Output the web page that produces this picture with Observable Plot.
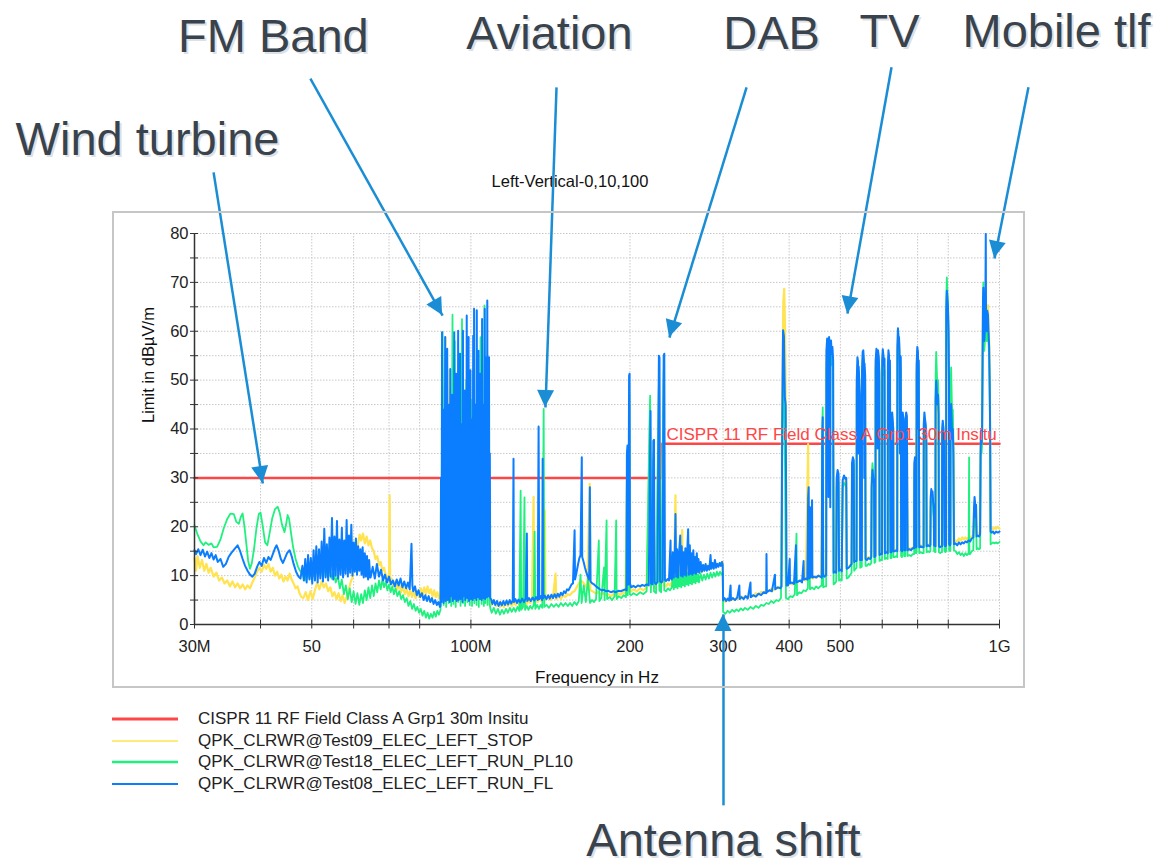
<!DOCTYPE html>
<html><head><meta charset="utf-8">
<script src="https://cdn.jsdelivr.net/npm/d3@7"></script>
<script src="https://cdn.jsdelivr.net/npm/@observablehq/plot@0.6"></script>
<style>
html,body{margin:0;padding:0;background:#fff;}
#wrap{position:relative;width:1162px;height:868px;overflow:hidden;font-family:"Liberation Sans",Arial,sans-serif;}
#chart{position:absolute;left:0;top:0;width:1162px;height:868px;}
#box{position:absolute;left:112px;top:211px;width:909px;height:473px;border:2px solid #c6c6c6;pointer-events:none;}
#legend{position:absolute;left:112px;top:708px;font-size:17px;color:#222;}
.row{height:21.7px;display:flex;align-items:center;white-space:nowrap;}
</style></head><body>
<div id="wrap"><div id="chart"></div><div id="box"></div><div id="legend"></div></div>
<script>
// ---------- axes / labels ----------
const xTicks = [30,40,50,60,70,80,100,200,300,400,500,600,700,800,1000];
const xTickText = ["30M","","50","60","","80","100M","200","300","400","500","","","800","1G"];
const yTicks = [0,5,10,15,20,25,30,35,40,45,50,55,60,65,70,75,80];
const yTickLabels = [0,10,20,30,40,50,60,70,80];
const chartTitle = "Left-Vertical-0,10,100";
const xTitle = "Frequency in Hz";
const yTitle = "Limit in dBµV/m";

// ---------- series ----------
const seriesNames = [
  "CISPR 11 RF Field Class A Grp1 30m Insitu",
  "QPK_CLRWR@Test09_ELEC_LEFT_STOP",
  "QPK_CLRWR@Test18_ELEC_LEFT_RUN_PL10",
  "QPK_CLRWR@Test08_ELEC_LEFT_RUN_FL"
];
const seriesColors = ["#ff4646", "#ffe350", "#20f07e", "#0b7dff"];

// limit line (MHz, dBµV/m)
const limitFreq = [30, 230, 230, 1000];
const limitLevel = [30, 30, 37, 37];
const limitLabelFreq = 234.4;
const limitLabelLevel = 37.65;

// Test09 STOP (yellow): [MHz, dBµV/m]
const yellowTrace = [
[30.0,13.6],[30.2,11.0],[30.4,14.0],[30.7,11.6],[31.0,13.2],[31.3,11.0],[31.6,12.4],[31.9,10.6],[32.2,11.6],[32.6,9.8],[33.0,10.6],[33.4,9.0],[33.8,9.6],[34.2,8.4],[34.6,9.0],[35.0,7.8],[35.4,8.8],[35.8,7.6],[36.2,8.4],[36.6,7.4],[37.0,8.2],[37.4,7.2],[37.8,8.0],[38.2,7.4],[38.6,8.6],[39.0,9.6],[39.4,10.8],[39.8,11.6],[40.2,10.8],[40.6,12.2],[41.0,11.4],[41.4,12.4],[41.8,10.8],[42.2,11.6],[42.6,10.0],[43.0,10.8],[43.4,9.4],[43.8,10.2],[44.2,8.8],[44.6,9.8],[45.0,9.0],[45.4,10.4],[45.8,9.2],[46.2,8.4],[46.6,7.4],[47.0,7.8],[47.4,6.4],[47.8,5.6],
[48.2,5.4],[48.7,6.6],[49.2,5.0],[49.7,6.8],[50.2,5.2],[50.7,7.0],[51.2,8.6],[51.7,7.2],[52.2,8.8],[52.7,7.6],[53.2,8.4],[53.7,6.8],[54.2,7.6],[54.7,5.8],[55.2,6.6],[55.7,5.2],[56.2,6.4],[56.7,4.8],[57.2,6.0],[57.7,4.4],[58.2,5.6],[58.7,7.0],[59.2,8.6],[59.7,9.6],[60.2,12.0],[60.7,14.6],[61.2,16.8],[61.6,18.4],[62.0,17.2],[62.5,18.6],[63.0,16.6],[63.5,18.0],[64.0,16.2],[64.5,17.2],[65.0,15.6],[65.5,15.0],[66.0,13.4],[66.5,14.0],[67.0,12.2],[67.5,12.8],[68.0,11.0],[68.5,11.6],[69.0,10.2],[69.6,9.4],[70.0,8.8],[70.2,26.4],[70.35,8.6],[70.8,9.4],[71.4,7.8],[72.0,8.8],[72.6,7.2],[73.2,8.4],[73.8,6.6],[74.4,7.8],[75.0,6.2],[75.6,7.2],[76.2,5.8],[76.8,7.0],[77.4,5.6],[78.0,6.8],[78.6,5.4],[79.2,6.6],[79.8,5.6],[80.4,7.4],[81.0,6.0],[81.6,7.6],[82.2,6.2],[82.8,7.8],[83.4,6.4],[84.0,7.2],[84.6,5.8],[85.2,7.0],[85.8,5.6],[86.4,6.6],[87.0,5.4],[87.6,6.0],
[88.0,22],[88.5,5.4],[89.0,44],[89.5,58.8],[89.9,5.8],[90.3,52.0],[90.8,6.4],[91.3,40],[91.8,5.6],[92.4,46],[92.9,6.2],[93.4,38],[93.9,5.8],[94.5,50],[95.0,6.6],[95.5,42],[96.0,5.4],[96.6,48],[97.1,6.2],[97.6,36],[98.1,5.6],[98.7,52],[99.2,6.0],[99.7,40],[100.2,5.2],[100.8,46],[101.3,6.4],[101.9,38],[102.4,5.6],[103.0,50],[103.5,6.2],[104.0,42],[104.5,5.4],[105.1,36],[105.6,6.0],[106.1,25],[106.4,10.0],[106.8,30],[107.3,5.8],[107.8,40],[108.3,6.0],[108.9,5.0],
[109.5,4.0],[110.5,4.8],[111.5,3.8],[112.5,4.6],[113.5,3.6],[114.5,4.4],[115.5,3.6],[116.5,4.4],[117.5,3.8],[118.5,4.6],[119.5,3.8],[120.5,4.6],[121.5,4.0],[122.5,4.8],[123.5,4.0],[124.5,4.8],[125.5,4.2],[126.5,5.0],[127.5,4.2],[128.5,5.0],[129.5,4.4],[130.5,5.0],[131.4,26.1],[131.8,4.6],[132.8,5.2],[133.8,4.6],[134.8,5.2],[136.0,4.8],[137.5,5.4],[138.0,23.3],[138.4,5.0],[140,5.6],[141.5,5.0],[143,5.6],[144.6,10.4],[145,5.2],[146.5,5.8],[148,5.2],[149.5,6.0],[151,5.6],[152.5,6.2],[154,6.0],[155.5,6.6],[157,6.8],[158.5,7.6],[160,8.4],[161.5,9.0],[163,8.6],[164.5,8.0],[166,7.4],[167.8,28.8],[168.2,7.0],[170,6.8],[172,6.4],[174,6.6],[176,6.2],[178,6.4],[180,6.0],[182,6.2],[184,5.8],[186,6.2],[188,5.9],[190,6.4],[192,6.1],[194,6.6],[196,6.4],[197.5,30],[198.5,6.8],[199.4,45],[199.8,7.2],[201,6.8],
[203,7.2],[206,6.8],[209,7.4],[212,7.0],[215,7.6],[218.3,40],[219,7.4],[221.4,35],[222,7.6],[224,7.4],[226.8,48],[227.5,7.8],[229,7.6],[231.6,50],[232.3,8.0],[234,7.8],[236,8.4],[238,8.0],[240,8.6],[241,12.0],[242,8.4],[243.8,26.4],[244.4,8.8],[245.5,13.0],[246.5,8.8],[247.5,12.4],[248.5,9.0],[249.5,13.6],[251,19.3],[251.5,9.2],[252.5,12.8],[253.5,9.4],[254.5,14.0],[255.5,9.4],[256.5,12.6],[257.5,9.8],[258.5,13.8],[259.5,9.8],[260.5,12.4],[261.5,10.0],[262.5,13.6],[263.5,10.2],[264.5,12.0],[265.5,10.4],[266.5,13.2],[267.5,10.6],[268.5,12.0],[269.5,10.6],[271,12.2],[272.5,10.8],[274,12.0],[275.5,11.0],[277,12.2],[278.5,11.2],[280,12.0],[281.5,11.2],[283,12.4],[284.5,11.4],[286,12.2],[287.5,11.6],[289,12.6],[290.5,11.8],[292,12.4],[294,12.0],[296,12.6],[298,12.4],[299.5,12.8],
[300,5.0],[303,4.6],[306,5.2],[309,4.8],[312,5.4],[315,5.0],[318,5.5],[321,5.2],[324,5.8],[327,5.4],[330,5.8],[334,5.5],[338,6.0],[342,5.8],[346,6.4],[350,6.2],[354,6.7],[358,6.5],[362,7.0],[366,6.8],[370,7.3],[374,7.0],[378,7.6],[382,7.4],[386,7.9],[388,45],[390,66],[391.5,68.7],[393,60],[394.5,40],[395.5,8.0],[398,8.2],[402,8.4],[406,8.2],[410,8.8],[414,8.6],[418,9.0],[422,8.8],[426,9.2],[430,9.0],[433.5,30],[434.5,36.9],[435.5,9.4],[440,9.6],[444,9.4],[448,9.8],[452,9.6],[456,10.0],[460,9.8],[462,36],[463,40],[464,10.0],[467,10.2],
[470,10.2],[470.5,54],[472,57],[474,55],[476,57.5],[478,55],[480,57],[482,54],[484,55],[485.5,10.8],[488,11.0],[491,10.8],[492,29],[494,30.5],[496,29.5],[497,11.2],[500,11.4],[503,11.0],[505,28.5],[508,29.5],[511,29],[513,29],[514,11.6],[518,11.8],[522,12.2],[525,12.6],[526,32],[528,33],[530,32.5],[531,13.0],[534,13.2],
[536.5,13.2],[537,49],[538.5,53],[540,52],[541.5,51],[543,48],[544.5,46],[545,13.4],
[549,13.4],[549.5,51],[551,54.5],[552.5,55],[554,53],[555.5,52],[557,50],[558,13.6],
[561,13.4],[565,13.8],[569,13.6],[572,14.0],[573,29],[575,32],[577,30],[579,28],[580,14.0],
[582.5,14.2],[583,53],[585,55.5],[587,54.5],[589,55],[591,54],[592.5,51],[593,14.4],[596,14.6],
[599.5,14.6],[600,53],[601.5,55.5],[603,54.5],[604.5,52],[606,53],[607,14.8],[610,15.0],
[614.5,14.8],[615,52],[616.5,55],[618,54],[620.5,53],[622,15.0],
[624.5,15.0],[625,40],[626.5,42.5],[628,41],[629.5,39],[630,15.2],[634,15.2],[638,15.4],
[640.5,15.2],[641,56],[642.5,59.5],[644,58],[645.5,57.5],[647,55],[649,54],[650.5,53],[651.5,15.4],
[654,15.2],[654.5,40],[656,42.5],[658,41],[659.5,38],[660,15.4],
[663.5,15.4],[664,41],[666,42.5],[668,42],[670,15.4],[675,15.6],[680,15.4],[685,15.8],
[689.5,15.8],[690,32],[692,33.5],[694,16.0],
[696.5,16.0],[697,52],[699,56],[701,55],[703.5,53],[705,16.0],[710,16.2],[715,16.0],
[718.5,16.0],[719,40],[721,42.5],[723,41],[725,40],[727,38],[728,16.2],[733,16.4],[737,16.2],
[740,16.4],[741,25],[743,27],[745,26],[747,26.5],[749,24],[751,23],[752,16.4],
[756.5,16.2],[757,45],[759,48.5],[761,47],[763,44],[765,46],[767,42],[768,16.2],[772,16.0],[776,16.2],
[778.5,16.2],[779,39],[781,41],[783,40],[785,37],[787,16.4],[790,16.2],
[792.5,16.4],[793,63],[795,67],[797,65.5],[799,64],[801,59],[802.5,49],[803,16.6],[806,16.4],
[807.5,16.6],[808,42],[810,44],[812,41],[814,37],[816,39],[818,34],[820,16.6],[826,17.2],[832,17.0],[838,17.6],[844,17.2],[850,17.8],[856,17.4],[862,17.8],[868,17.4],[874,17.8],[880,17.6],[886,18.0],
[892,18.2],[895,23],[897,25],[899,24],[901,21],[903,23.5],[905,18.6],[910,18.8],[915,18.6],
[919,18.8],[921,35],[923,38],[925,36],[927,39],[929,54],[930.5,64],[932,67],[934,61],[936,57],[938,59],[940,62],[942,70],[943,61],[946,59],[948,63],[951,65.3],[953,62],[956,58],[958,52],[960,42],[962,19.6],[966,19.8],[972,19.4],[978,19.8],[985,19.6],[992,20.0],[1000,19.6]
];

// Test18 RUN_PL10 (green)
const greenTrace = [
[30.0,20.3],[30.35,18.6],[30.8,17.0],[31.2,16.2],[31.5,16.8],[31.9,16.3],[32.3,16.6],[32.6,15.8],[33.1,15.9],[33.6,17.4],[34.1,19.8],[34.6,21.6],[35.1,22.7],[35.6,22.6],[36.0,21.0],[36.4,20.6],[36.7,22.0],[37.0,22.7],[37.3,20.0],[37.6,16.5],[37.9,13.0],[38.2,11.4],[38.5,12.5],[38.9,15.6],[39.3,19.8],[39.7,22.6],[40.0,22.9],[40.4,20.0],[40.8,16.8],[41.2,16.2],[41.6,18.6],[42.1,21.8],[42.6,23.6],[43.1,24.1],[43.5,22.8],[43.9,20.5],[44.4,18.9],[44.7,20.4],[45.0,22.4],[45.3,21.6],[45.7,18.6],[46.1,15.8],[46.6,13.4],[47.1,11.8],[47.6,10.8],
[48.0,10.4],[48.5,9.0],[49.0,11.2],[49.5,9.4],[50.0,11.6],[50.5,9.8],[51.0,12.0],[51.5,10.0],[52.0,11.6],[52.5,9.6],[53.0,11.8],[53.5,9.8],[54.0,11.2],[54.5,9.4],[55.0,10.8],[55.5,8.6],[56.0,10.0],[56.5,7.4],[57.0,9.2],[57.5,6.2],[58.0,8.0],[58.5,5.2],[59.0,7.4],[59.5,4.6],[60.0,6.8],[60.5,4.2],[61.0,6.4],[61.5,4.0],[62.0,6.2],[62.5,4.4],[63.0,7.0],[63.5,5.0],[64.0,7.6],[64.5,5.4],[65.0,8.0],[65.5,5.8],[66.0,8.4],[66.5,6.6],[67.0,9.0],[67.5,7.2],[68.0,9.2],[68.5,7.6],[69.0,8.8],[69.5,7.0],[70.0,8.2],[70.5,6.6],[71.0,7.8],[71.5,6.2],[72.0,7.4],[72.6,5.8],[73.2,6.8],[73.8,5.2],[74.4,6.0],[75.0,4.6],[75.6,5.4],[76.2,3.8],[76.8,4.8],[77.4,3.2],[78.0,4.2],[78.6,2.8],[79.2,3.6],[79.8,2.4],[80.4,3.2],[81.0,1.8],[81.6,2.8],[82.2,1.4],[82.8,2.4],[83.4,1.2],[84.0,2.2],[84.6,1.4],[85.2,2.6],[85.8,1.6],[86.4,2.8],[87.0,2.0],[87.6,3.0],
[88.0,20],[88.4,59.8],[88.8,4.0],[89.3,40],[89.8,3.6],[90.3,30],[90.8,4.4],[91.3,44],[91.8,3.8],[92.3,63.4],[92.7,4.2],[93.2,58.0],[93.6,3.6],[94.1,35],[94.6,4.6],[95.1,48],[95.6,3.8],[96.2,62.5],[96.6,4.4],[97.1,40],[97.5,3.8],[98.0,50],[98.5,4.6],[99.0,38],[99.5,4.0],[100.0,46],[100.5,3.8],[101.0,52],[101.5,4.4],[102.0,36],[102.5,4.0],[103.0,45],[103.5,3.6],[104.3,58.8],[104.8,4.2],[105.3,40],[105.8,3.8],[106.1,65.3],[106.5,4.4],[107.0,44],[107.5,4.0],[108.0,38],[108.5,4.2],[108.9,3.2],
[109.5,2.4],[110.5,3.4],[111.5,2.2],[112.5,3.2],[113.5,2.0],[114.5,3.0],[115.5,2.2],[116.5,3.2],[117.5,2.4],[118.5,3.4],[119.5,2.6],[120.5,3.4],[121.5,2.6],[122.5,3.6],[123.5,2.8],[124.2,27.4],[124.5,3.0],[125.5,3.6],[126.3,26.0],[126.6,3.0],[127.5,3.8],[128.5,3.0],[129.5,3.8],[130.5,3.2],[131.5,4.0],[132.0,19.0],[132.4,3.2],[133.5,4.0],[134.5,3.2],[135.5,4.0],[136.5,3.4],[137.3,44.1],[137.7,3.6],[139,4.0],[140.5,3.4],[142,4.2],[143.5,3.6],[145,4.2],[146.5,3.6],[148,4.4],[149.5,3.8],[151,4.4],[152.5,3.8],[154,4.4],[155.5,3.8],[157,4.6],[158.5,4.0],[160,4.8],[161.2,10.2],[162,4.4],[163.5,8.0],[165,4.6],[166.5,9.4],[168,4.4],[169.5,5.0],[171,4.6],[172.5,5.2],[174.6,17.2],[175,4.8],[176.5,5.4],[178.6,11.7],[179,5.0],[180.6,21.3],[181,5.2],[183,5.6],[185,5.0],[187,5.8],[188.3,21.3],[188.7,5.2],[190.5,5.8],[192.5,5.4],[194.5,6.0],[196.5,5.6],[197.3,30.0],[198,6.0],[199.4,47.0],[199.8,6.2],[201,6.0],
[203,6.4],[206,6.0],[209,6.6],[212,6.2],[215,6.8],[217.6,40.0],[218.3,46.8],[219,6.6],[221.4,34.0],[222,6.8],[224,6.4],[226.8,50.0],[227.3,7.0],[229,6.6],[231.6,52.0],[232.2,7.0],[234,6.8],[236,7.4],[238,7.0],[240,7.6],[241,10.2],[242,7.2],[243,9.8],[244,7.6],[245,10.6],[246,7.4],[247,10.0],[248,7.8],[249,11.2],[250,7.6],[251,10.4],[252,8.0],[253,10.8],[254,7.8],[255,11.0],[256,8.2],[257,10.6],[258,8.0],[259,11.4],[260,8.4],[261,10.2],[262,8.2],[263,11.0],[264,8.6],[265,10.4],[266,8.4],[267,10.8],[268,8.8],[269,10.2],[270,8.6],[272,10.4],[274,9.0],[276,10.2],[278,9.2],[280,10.4],[282,9.4],[284,10.6],[286,9.6],[288,10.6],[290,9.8],[292,10.8],[294,10.0],[296,10.8],[298,10.2],[299.5,10.6],
[300,2.6],[303,2.2],[306,2.8],[309,2.4],[312,3.0],[315,2.6],[318,3.1],[321,2.7],[324,3.3],[327,2.9],[330,3.4],[334,3.0],[338,3.6],[342,3.2],[346,3.8],[350,3.4],[354,4.0],[358,3.8],[362,4.4],[366,4.2],[370,4.8],[374,4.4],[378,5.0],[382,4.8],[386,5.4],[388,30],[390,55],[391.5,50],[393,30],[394.5,5.4],[398,5.2],[402,5.8],[406,5.6],[410,6.2],[413,18.6],[414,6.0],[418,6.6],[422,6.4],[426,7.0],[430,6.8],[434,7.4],[436,20],[438,7.2],[442,7.6],[446,7.2],[450,7.8],[454,7.4],[458,7.8],[461,8.0],[462,40],[463,44.4],[464,7.6],[467,7.8],
[470,7.8],[470.5,52],[472,56],[474,54],[476,57],[478,55],[480,56],[482,53],[484,54],[485.5,8.2],[488,8.4],[491,8.8],[492,28],[494,30],[496,29],[497,9.0],[500,9.2],[503,9.0],[505,28],[508,29],[511,28.5],[513,28],[514,9.4],[518,9.6],[522,10.2],[525,10.6],[526,32],[528,33.5],[530,32.5],[531,11.0],[534,11.4],
[536.5,11.6],[537,48],[538.5,52],[540,51],[541.5,50],[543,47],[544.5,45],[545,11.6],
[549,11.8],[549.5,50],[551,54],[552.5,54.5],[554,52],[555.5,51],[557,49],[558,12.0],
[561,12.0],[565,12.4],[569,12.2],[572,12.6],[573,30],[575,33],[577,31],[579,29],[580,12.6],
[582.5,12.8],[583,52],[585,55],[587,54],[589,54.5],[591,53],[592.5,50],[593,13.0],[596,13.2],
[599.5,13.2],[600,52],[601.5,55],[603,54],[604.5,51],[606,52],[607,13.4],[610,13.6],
[614.5,13.4],[615,51],[616.5,54],[618,53],[620.5,52],[622,13.6],
[624.5,13.6],[625,39],[626.5,41.5],[628,40],[629.5,38],[630,13.8],[634,13.8],[638,14.0],
[640.5,13.8],[641,55],[642.5,58],[644,57],[645.5,56],[647,54],[649,53],[650.5,52],[651.5,14.0],
[654,13.8],[654.5,39],[656,41.5],[658,40],[659.5,37],[660,14.0],
[663.5,14.0],[664,40],[666,41.5],[668,41],[670,14.0],[675,14.2],[680,14.0],[685,14.4],
[689.5,14.4],[690,31],[692,32.5],[694,14.6],
[696.5,14.6],[697,51],[699,55],[701,54],[703.5,52],[705,14.6],[710,14.8],[715,14.6],
[718.5,14.6],[719,39],[721,41.5],[723,40],[725,39],[727,37],[728,14.8],[733,15.0],[737,14.8],
[740,15.0],[741,24],[743,26],[745,25],[747,25.5],[749,23],[751,22],[752,15.0],
[756.5,14.8],[757,50],[759,55.8],[761,52],[763,48],[765,50],[767,46],[768,14.8],[772,14.6],[776,14.8],
[778.5,14.8],[779,38],[781,40],[783,39],[785,36],[787,15.0],[790,14.8],
[792.5,15.0],[793,66],[795,71.0],[797,68],[799,66],[801,58],[802.5,48],[803,15.2],[806,15.0],
[807.5,15.2],[808,48],[810,52.6],[812,47],[814,42],[816,44],[818,38],[820,15.2],[826,15.0],[832,14.4],[838,14.8],[844,14.2],[850,14.6],[856,14.0],[862,14.6],[868,14.2],[874,14.6],[876,34.2],[877,14.4],[880,14.4],[886,15.0],
[892,15.2],[895,22],[897,24],[899,23],[901,20],[903,22.5],[905,15.4],[910,15.6],[915,15.4],
[919,15.6],[921,34],[923,37],[925,35],[927,37],[929,52],[930.5,64],[932,70],[934,60],[936,56],[938,58],[940,61],[942,66],[943,60],[946,58],[948,62],[951,61],[953,58],[956,54],[958,48],[960,38],[962,16.4],[966,16.6],[972,16.8],[978,16.6],[985,16.8],[992,16.6],[1000,16.9]
];

// Test08 RUN_FL (blue)
const blueTrace = [
[30.0,15.2],[30.2,14.4],[30.5,15.4],[30.8,14.2],[31.1,15.3],[31.4,13.9],[31.7,14.9],[32.0,13.6],[32.3,14.6],[32.6,13.3],[32.9,14.2],[33.2,12.8],[33.6,13.4],[34.0,11.8],[34.4,12.4],[34.8,13.8],[35.2,14.6],[35.7,15.4],[36.2,16.2],[36.6,15.0],[37.0,13.4],[37.4,12.0],[37.8,11.0],[38.2,10.2],[38.6,9.8],[39.0,10.4],[39.4,11.8],[39.8,12.8],[40.2,12.0],[40.6,13.6],[41.0,12.6],[41.4,13.8],[41.8,13.2],[42.2,14.4],[42.6,15.6],[42.9,16.2],[43.3,15.0],[43.7,13.4],[44.1,12.6],[44.5,13.6],[44.9,14.6],[45.4,15.2],[45.8,14.0],[46.2,12.4],[46.7,10.8],[47.2,9.8],[47.6,9.4],
[48.0,12.0],[48.3,9.0],[48.6,13.4],[48.9,8.6],[49.2,14.2],[49.5,9.2],[49.8,13.6],[50.1,8.4],[50.4,15.2],[50.7,9.0],[51.0,16.0],[51.3,8.6],[51.6,15.4],[51.9,9.4],[52.2,17.0],[52.5,8.8],[52.8,19.6],[53.1,9.6],[53.4,16.4],[53.7,9.0],[54.0,17.8],[54.3,9.8],[54.6,21.8],[54.9,9.2],[55.2,18.0],[55.5,10.0],[55.8,21.2],[56.1,9.4],[56.4,17.4],[56.7,10.2],[57.0,19.8],[57.3,9.6],[57.6,17.2],[57.9,10.4],[58.2,21.4],[58.5,9.8],[58.8,18.2],[59.1,10.6],[59.4,20.4],[59.7,10.0],[60.0,16.8],[60.3,10.8],[60.6,17.6],[60.9,10.2],[61.2,16.0],[61.5,11.0],[61.8,15.4],[62.1,10.2],[62.4,15.8],[62.7,9.6],[63.0,14.6],[63.3,9.8],[63.6,14.0],[63.9,9.2],[64.2,13.2],[64.5,9.6],
[64.6,9.6],[65.2,11.8],[65.8,9.4],[66.4,12.4],[67.0,9.8],[67.6,11.2],[68.2,9.0],[68.8,10.2],[69.4,8.6],[70.0,9.8],[70.6,8.2],[71.2,9.0],[71.8,7.8],[72.4,9.2],[73.0,8.0],[73.6,9.4],[74.2,7.6],[74.8,8.8],[75.4,7.4],[76.0,8.6],[76.6,7.2],[77.2,16.5],[77.5,8.0],[77.8,6.8],[78.4,7.8],[79.0,6.0],[79.6,7.0],[80.2,5.6],[80.8,6.4],[81.4,5.0],[82.0,6.0],[82.6,4.8],[83.2,5.8],[83.8,4.6],[84.4,5.4],[85.0,4.2],[85.6,5.0],[86.2,4.0],[86.8,4.6],[87.4,3.6],
[87.6,3.8],[87.8,30.0],[88.0,4.6],[88.2,59.8],[88.4,5.2],[88.6,44.0],[88.8,4.4],[89.0,38.5],[89.2,5.8],[89.4,58.8],[89.6,4.8],[89.8,42.0],[90.0,6.2],[90.2,56.4],[90.4,5.0],[90.6,36.0],[90.8,6.6],[91.0,45.0],[91.2,4.6],[91.4,52.3],[91.6,5.8],[91.8,40.5],[92.0,6.8],[92.2,47.0],[92.4,4.8],[92.6,38.0],[92.8,6.0],[93.0,59.8],[93.2,5.2],[93.4,43.0],[93.6,6.4],[93.8,51.3],[94.0,4.8],[94.2,39.0],[94.4,6.2],[94.6,60.1],[94.8,5.0],[95.0,46.0],[95.2,6.6],[95.4,55.4],[95.6,5.2],[95.8,41.0],[96.0,6.0],[96.2,36.5],[96.4,4.6],[96.6,60.1],[96.8,5.8],[97.0,44.0],[97.2,6.8],[97.4,47.9],[97.6,5.0],[97.8,40.0],[98.0,6.2],[98.2,63.2],[98.4,5.4],[98.6,43.0],[98.8,6.6],[99.0,58.8],[99.2,4.8],[99.4,39.0],[99.6,6.0],[99.8,52.0],[100.0,5.2],[100.2,42.0],[100.4,6.8],[100.6,37.0],[100.8,5.0],[101.0,59.1],[101.2,6.2],[101.4,64.6],[101.6,5.4],[101.8,45.0],[102.0,6.6],[102.2,41.0],[102.4,5.0],[102.6,64.3],[102.8,6.2],[103.0,44.0],[103.2,5.6],[103.4,56.0],[103.6,6.8],[103.8,40.0],[104.0,5.2],[104.2,51.3],[104.4,6.4],[104.6,38.0],[104.8,5.0],[105.0,62.5],[105.2,6.0],[105.4,45.0],[105.6,5.4],[105.8,41.0],[106.0,6.6],[106.2,64.6],[106.4,5.2],[106.6,54.7],[106.8,6.2],[107.0,43.0],[107.2,5.6],[107.4,66.3],[107.6,6.4],[107.8,47.0],[108.0,5.8],[108.2,54.7],[108.4,6.2],[108.6,35.0],[108.8,5.4],
[109.2,5.2],[109.8,4.2],[110.5,5.0],[111.2,4.0],[112.0,4.8],[112.8,3.8],[113.6,4.6],[114.4,3.9],[115.2,4.8],[116.0,4.0],[116.8,4.9],[117.6,4.1],[118.4,5.0],[119.2,4.3],[120.0,5.0],[120.4,33.9],[120.6,4.6],[121.4,5.2],[122.2,4.4],[123.0,5.1],[124.0,4.5],[125.0,5.3],[126.0,4.6],[127.0,5.4],[127.6,18.6],[127.8,4.8],[128.8,5.4],[129.8,4.8],[130.8,5.5],[131.8,4.9],[132.8,5.6],[133.8,5.0],[134.3,40.5],[134.7,5.2],[135.6,5.8],[136.4,5.0],[136.7,33.9],[137.0,5.4],[138.0,5.9],[139.0,5.2],[140.0,6.0],[141.0,5.3],[142.0,6.1],[143.0,5.4],[144.0,6.2],[145.0,5.5],[146.0,6.3],[147.0,5.7],[148.0,6.5],[149.0,6.0],[150.0,6.8],[151.0,6.4],[152.0,7.2],[153.0,7.0],[154.0,7.6],[155.0,8.2],[156.0,8.4],[157.1,19.3],[157.4,9.2],[158.4,10.6],[159.4,12.2],[160.4,13.6],[161.2,14.2],[162.1,34.2],[162.4,13.8],[163.4,12.8],[164.4,11.6],[165.4,10.6],[166.4,9.8],[167.4,9.2],[167.9,28.1],[168.4,8.8],[169.6,8.4],[171.0,8.2],[172.5,7.8],[174.0,7.5],[175.5,7.2],[177.0,7.0],[178.5,7.1],[180.0,6.8],[182.0,6.9],[184.0,6.6],[186.0,6.8],[188.0,6.6],[190.0,6.9],[192.0,6.8],[194.0,7.0],[196.0,7.2],[197.0,7.0],[197.3,34.9],[197.8,36.6],[198.5,8.2],[199.2,50.9],[199.6,51.3],[200.0,8.4],
[201.0,7.6],[203.0,7.9],[205.0,7.6],[207.0,8.0],[209.0,7.8],[211.0,8.1],[213.0,7.9],[215.0,8.2],[217.0,8.0],[218.3,36.0],[218.7,43.7],[219.2,8.4],[220.5,8.2],[221.4,37.6],[222.0,37.8],[222.6,8.6],[224.0,8.3],[225.5,8.7],[226.8,55.0],[227.4,54.6],[228.0,8.8],[229.5,8.6],[230.5,9.0],[231.6,55.0],[232.2,55.4],[232.8,9.2],[234.0,8.9],[235.5,9.3],[237.0,9.0],[238.6,17.2],[239.0,9.4],
[240.0,9.2],[241.0,14.8],[242.0,9.6],[243.0,13.6],[243.8,22.6],[244.5,9.8],[245.5,15.4],[246.5,9.6],[247.5,14.2],[248.9,18.2],[249.5,10.0],[250.5,16.0],[251.5,9.8],[252.5,14.8],[253.5,10.2],[254.5,15.6],[255.5,10.0],[256.5,14.4],[257.6,19.5],[258.5,10.2],[259.5,16.2],[260.5,10.4],[261.5,14.6],[262.5,10.2],[263.5,15.2],[264.5,10.6],[265.5,13.8],[266.5,10.4],[267.5,14.6],[268.5,10.8],[269.5,13.4],[270.5,10.6],[272.0,12.8],[273.5,10.8],[275.0,12.2],[276.5,11.0],[278.0,12.4],[279.5,11.0],[281.0,12.0],[282.5,11.2],[284.0,14.2],[285.0,11.4],[286.5,12.6],[288.0,11.4],[289.5,13.2],[291.0,11.6],[292.5,12.4],[294.0,11.8],[295.5,12.6],[297.0,12.0],[298.5,12.8],[299.5,12.2],
[300.0,4.9],[302,5.4],[304,4.8],[306,5.3],[308,4.9],[309.9,8.0],[310.5,5.0],[313,5.4],[316,5.0],[319,5.5],[322,8.0],[322.5,5.2],[325,5.6],[328,5.2],[331,5.8],[334,5.3],[338,8.6],[338.5,5.6],[342,6.0],[346,5.7],[350,6.3],[354,6.0],[358,6.6],[362,6.4],[362.4,14.4],[363,6.6],[367,7.0],[371,6.8],[376,10.2],[376.5,7.2],[381,7.6],[385,7.4],[387,7.8],[388,40.0],[389.5,60.2],[391,59.0],[392.5,46.5],[394,45.0],[395.5,8.0],[398,8.0],[401,13.4],[401.5,8.4],[405,8.6],[408.5,8.3],[412,16.2],[412.5,8.6],[416,8.8],[420,9.0],[423,8.6],[426,13.0],[426.5,9.2],[430,9.4],[433,9.2],[434.5,26.0],[435.5,28.1],[436.5,9.4],[438,24.0],[438.8,9.6],[442,25.4],[442.6,9.6],[446,9.8],[450,9.6],[454,10.0],
[458,9.8],[461,9.6],[462,38.0],[463,42.4],[464,10.0],[467,9.8],
[470,10.2],[470.5,56.0],[472,58.5],[473.5,57.0],[474.5,26.1],[475,57.5],[476,58.8],[477.5,56.8],[478.5,24.0],[479,56.0],[480,58.1],[481.5,55.4],[483,56.8],[484.5,54.0],[485.5,10.6],
[488,10.8],[491,10.6],[492,30.0],[494,31.6],[496,30.8],[497,11.0],[500,11.2],[503,10.9],[505,29.5],[508,30.5],[511,29.8],[513,30.0],[514,11.4],[518,11.6],[522,12.0],[525,12.4],[526,33.0],[528,34.2],[530,33.6],[531,12.8],[534,13.0],
[536.5,13.0],[537,50.0],[538.5,54.7],[540,53.8],[541,35.0],[541.5,52.8],[543,49.9],[544.5,47.0],[545,13.2],
[549,13.2],[549.5,52.0],[551,55.8],[552.5,56.1],[554,54.0],[555,30.0],[555.5,53.4],[557,51.0],[558,13.4],
[561,13.2],[565,13.6],[569,13.4],[572,13.8],[573,28.0],[575,31.6],[577,30.0],[579,29.0],[580,13.8],
[582.5,14.0],[583,54.0],[585,56.4],[587,55.6],[588,36.0],[589,56.1],[591,54.8],[592.5,51.5],[593,14.2],[596,14.4],
[599.5,14.4],[600,54.0],[601.5,56.3],[603,55.2],[604.5,53.0],[606,54.4],[607,14.6],[610,14.8],
[614.5,14.6],[615,53.0],[616.5,56.1],[618,55.0],[619.5,40.0],[620.5,54.0],[622,14.8],
[624.5,14.8],[625,41.0],[626.5,43.4],[628,42.0],[629.5,40.0],[630,15.0],[634,15.0],[638,15.2],
[640.5,15.0],[641,57.0],[642.5,60.6],[644,59.0],[645.5,58.8],[647,56.0],[648,35.0],[649,55.0],[650.5,54.7],[651.5,15.2],
[654,15.0],[654.5,41.0],[656,43.4],[658,42.0],[659.5,39.0],[660,15.2],
[663.5,15.2],[664,42.0],[666,43.4],[668,42.6],[670,15.2],[675,15.4],[680,15.2],[685,15.6],
[689.5,15.6],[690,33.0],[692,34.2],[694,15.8],
[696.5,15.8],[697,53.0],[699,56.8],[701,55.8],[702.5,40.0],[703.5,54.0],[705,15.8],[710,16.0],[715,15.8],
[718.5,15.8],[719,41.0],[721,43.4],[723,42.0],[725,41.0],[727,39.0],[728,16.0],[733,16.2],[737,16.0],
[740,16.2],[741,26.0],[743,27.7],[745,26.8],[747,27.2],[749,25.0],[751,24.0],[752,16.2],
[756.5,16.0],[757,46.0],[759,49.9],[761,48.0],[763,45.0],[765,47.0],[767,43.0],[768,16.0],[772,15.8],[776,16.0],
[778.5,16.0],[779,40.0],[781,41.7],[783,40.5],[785,38.0],[787,16.2],[790,16.0],
[792.5,16.2],[793,64.0],[795,68.3],[797,66.5],[799,65.0],[801,60.0],[802.5,50.0],[803,16.4],[806,16.2],
[807.5,16.4],[808,43.0],[810,45.1],[812,42.0],[814,38.0],[816,40.0],[818,35.0],[820,16.4],[826,16.6],[832,16.2],[838,16.8],[844,16.4],[850,16.8],[856,16.6],[862,17.0],[868,16.8],[874,17.2],[880,17.0],[886,17.6],
[892,17.8],[895,24.0],[897,26.1],[899,25.0],[901,22.0],[903,24.5],[905,18.0],[910,18.2],[915,18.0],
[919,18.4],[921,36.0],[923,39.7],[925,37.0],[927,40.0],[929,55.0],[930.5,66.0],[932,68.9],[934,62.0],[936,58.0],[938,60.0],[940,63.0],[942,79.9],[943,62.0],[946,60.0],[948,64.2],[951,63.4],[953,60.2],[956,56.8],[958,50.0],[960,40.0],[962,19.0],[966,18.8],[972,19.0],[978,18.6],[985,19.0],[992,18.8],[1000,19.0]
];

// ---------- annotations (frequency in MHz, level in dBµV/m) ----------
const annoLabels = ["Wind turbine","FM Band","Aviation","DAB","TV","Mobile tlf","Antenna shift"];
const annoTextFreq = [24.45, 42.3, 140.8, 370.4, 619.3, 1281.9, 300.5];
const annoTextLevel = [95.96, 117.2, 117.85, 117.85, 118.06, 118.06, -47.3];
const annoFromFreq = [32.6, 49.7, 145.2, 332.3, 624.8, 1134.5, 300.5];
const annoFromLevel = [92.5, 111.7, 109.9, 109.9, 114.0, 109.9, -37.0];
const annoTipFreq = [40.4, 88.4, 138.4, 237.5, 515.8, 978.6, 300.5];
const annoTipLevel = [28.85, 63.2, 44.4, 58.7, 63.6, 74.9, 2.05];

// ---------- build ----------
const annos = annoLabels.map((label, i) => ({
  label, tf: annoTextFreq[i], tv: annoTextLevel[i],
  ff: annoFromFreq[i], fv: annoFromLevel[i], pf: annoTipFreq[i], pv: annoTipLevel[i]
}));
const limitRows = limitFreq.map((f, i) => [f, limitLevel[i]]);
const xLabelMap = new Map(xTicks.map((t, i) => [t, xTickText[i]]));
const X = d => d[0], Y = d => d[1];
const arrowColor = "#1a8dd5";
const gridStyle = {stroke: "#c8c8c8", strokeOpacity: 1, strokeWidth: 1, strokeDasharray: "1.5,1.5"};

const chart = Plot.plot({
  width: 1162, height: 868,
  marginLeft: 194, marginRight: 163, marginTop: 233, marginBottom: 244,
  x: {type: "log", domain: [30, 1000]},
  y: {domain: [0, 80]},
  style: {fontFamily: "'Liberation Sans', Arial, sans-serif", fontSize: "16.5px", color: "#222", background: "transparent", overflow: "visible"},
  marks: [
    Plot.gridX(xTicks, gridStyle),
    Plot.gridY(yTicks, gridStyle),
    Plot.line(limitRows, {x: X, y: Y, stroke: seriesColors[0], strokeWidth: 2.5}),
    Plot.line(yellowTrace, {x: X, y: Y, stroke: seriesColors[1], strokeWidth: 2.2}),
    Plot.line(greenTrace, {x: X, y: Y, stroke: seriesColors[2], strokeWidth: 1.8}),
    Plot.line(blueTrace, {x: X, y: Y, stroke: seriesColors[3], strokeWidth: 2}),
    Plot.ruleX([30], {stroke: "#333", strokeWidth: 1.5}),
    Plot.ruleY([0], {stroke: "#333", strokeWidth: 1.5}),
    Plot.axisX(xTicks, {tickSize: 9, dy: -4.5, tickFormat: () => "", label: null, stroke: "#333"}),
    Plot.axisX(xTicks, {tickSize: 0, tickPadding: 16, tickFormat: d => xLabelMap.get(d), label: null, fill: "#222"}),
    Plot.axisY(yTicks, {tickSize: 8, dx: 4, tickFormat: () => "", label: null, stroke: "#333"}),
    Plot.axisY(yTickLabels, {tickSize: 0, tickPadding: 6, label: null, fill: "#222"}),
    Plot.text([seriesNames[0]], {x: [limitLabelFreq], y: [limitLabelLevel], text: d => d, textAnchor: "start", lineAnchor: "bottom", fill: seriesColors[0], fontSize: 17}),
    Plot.text([chartTitle], {frameAnchor: "top", dx: -27, dy: -47, lineAnchor: "bottom", text: d => d, fontSize: 16.5, fill: "#111"}),
    Plot.text([xTitle], {frameAnchor: "bottom", dy: 58, lineAnchor: "bottom", text: d => d, fontSize: 17, fill: "#111"}),
    Plot.text([yTitle], {frameAnchor: "left", dx: -45.5, dy: -6, rotate: -90, text: d => d, fontSize: 16.5, fill: "#111"}),
    Plot.link(annos, {x1: "ff", y1: "fv", x2: "pf", y2: "pv", stroke: arrowColor, strokeWidth: 2.5}),
    Plot.text(annos, {x: "tf", y: "tv", text: "label", dx: 2, dy: 2, lineAnchor: "bottom", fontSize: 47, fill: "#b4bac0", fillOpacity: 0.45}),
    Plot.text(annos, {x: "tf", y: "tv", text: "label", lineAnchor: "bottom", fontSize: 47, fill: "#39434d"})
  ]
});
document.getElementById("chart").appendChild(chart);

// arrowheads positioned through the chart's own scales
const sx = chart.scale("x"), sy = chart.scale("y");
const svg = d3.select(chart);
const headLen = 17, headHalf = 8.5;
annos.forEach(a => {
  const x1 = sx.apply(a.ff), y1 = sy.apply(a.fv), x2 = sx.apply(a.pf), y2 = sy.apply(a.pv);
  const len = Math.hypot(x2 - x1, y2 - y1), ux = (x2 - x1) / len, uy = (y2 - y1) / len;
  const bx = x2 - ux * headLen, by = y2 - uy * headLen;
  const pts = [[x2, y2], [bx - uy * headHalf, by + ux * headHalf], [bx + uy * headHalf, by - ux * headHalf]];
  svg.append("polygon").attr("points", pts.map(p => p.join(",")).join(" ")).attr("fill", arrowColor);
});

// legend
const legendWidths = [3, 1.6, 2.4, 1.8];
const legend = d3.select("#legend");
seriesNames.forEach((name, i) => {
  const row = legend.append("div").attr("class", "row");
  const s = row.append("svg").attr("width", 66).attr("height", 8).style("margin-right", "20px");
  s.append("line").attr("x1", 0).attr("x2", 66).attr("y1", 4).attr("y2", 4)
    .attr("stroke", seriesColors[i]).attr("stroke-width", legendWidths[i]);
  row.append("span").text(name);
});
</script>
</body></html>
